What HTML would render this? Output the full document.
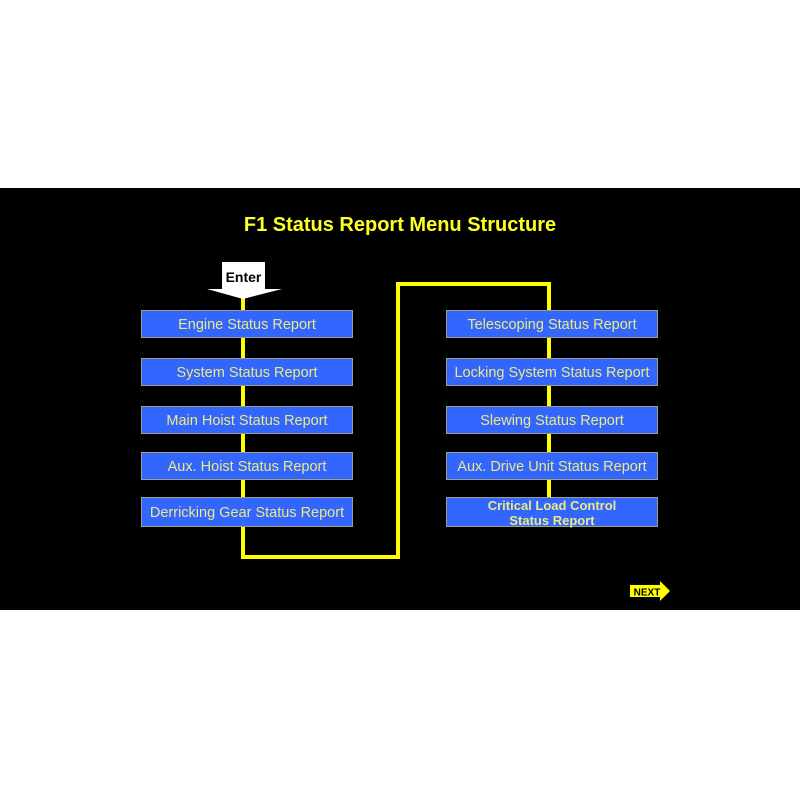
<!DOCTYPE html>
<html><head><style>
body{margin:0;width:800px;height:800px;background:#fff;position:relative;font-family:"Liberation Sans",sans-serif;overflow:hidden}
.band{position:absolute;left:0;top:188px;width:800px;height:422px;background:#000}
.t{position:absolute;left:0;width:800px;top:214px;text-align:center;color:#ffff22;font-weight:bold;font-size:20px}
.b{position:absolute;width:210px;height:26px;background:#3366ff;border:1px solid #9aa08a;color:#eaea80;font-size:14.5px;text-align:center;line-height:29px;white-space:nowrap}
</style></head><body>
<div class="band"></div>
<div class="t">F1 Status Report Menu Structure</div>
<svg style="position:absolute;left:0;top:0" width="800" height="800">
<polyline points="243,290 243,557 398,557 398,284 549,284 549,500" fill="none" stroke="#ffff00" stroke-width="4"/>
<rect x="222" y="262" width="43" height="28" fill="#fff"/>
<polygon points="207,289 282,289 243,299" fill="#fff"/>
<text x="243.5" y="282" text-anchor="middle" font-family="Liberation Sans" font-weight="bold" font-size="14" fill="#000">Enter</text>
<polygon points="630,585 660,585 660,581 670,591 660,601 660,597 630,597" fill="#ffff00"/>
<text x="647" y="595.5" text-anchor="middle" font-family="Liberation Sans" font-weight="bold" font-size="10" fill="#000">NEXT</text>
</svg>
<div class="b" style="left:141px;top:310px">Engine Status Report</div>
<div class="b" style="left:141px;top:358px">System Status Report</div>
<div class="b" style="left:141px;top:406px">Main Hoist Status Report</div>
<div class="b" style="left:141px;top:452px">Aux. Hoist Status Report</div>
<div class="b" style="left:141px;top:497px;height:28px;line-height:31px">Derricking Gear Status Report</div>
<div class="b" style="left:446px;top:310px">Telescoping Status Report</div>
<div class="b" style="left:446px;top:358px">Locking System Status Report</div>
<div class="b" style="left:446px;top:406px">Slewing Status Report</div>
<div class="b" style="left:446px;top:452px">Aux. Drive Unit Status Report</div>
<div class="b" style="left:446px;top:497px;height:28px;line-height:15px;font-weight:bold;font-size:13px">Critical Load Control<br>Status Report</div>
</body></html>
